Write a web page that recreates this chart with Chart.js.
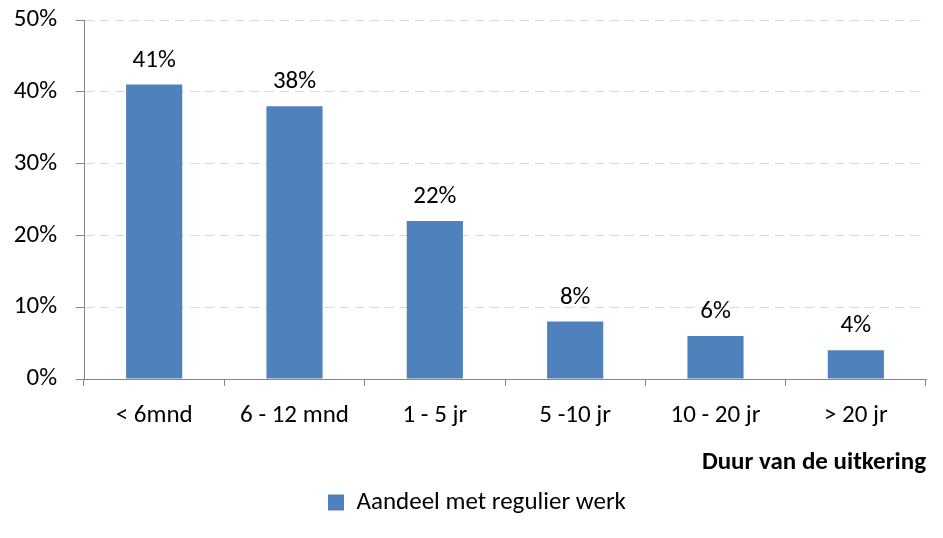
<!DOCTYPE html>
<html>
<head>
<meta charset="utf-8">
<script src="https://cdn.jsdelivr.net/npm/chart.js@4"></script>
<style>
  html, body { margin: 0; padding: 0; background: #fff; }
  #wrap { width: 943px; height: 538px; }
</style>
</head>
<body>
<div id="wrap"><canvas id="chart" width="943" height="538"></canvas></div>
<script>
const categories = ['< 6mnd', '6 - 12 mnd', '1 - 5 jr', '5 -10 jr', '10 - 20 jr', '> 20 jr'];
const shareValues = [41, 38, 22, 8, 6, 4];
const seriesLabel = 'Aandeel met regulier werk';
const axisTitle = 'Duur van de uitkering';

const FONT = "Carlito, Lato, 'Open Sans', sans-serif";
const SIZE = 25;
const GRAY = '#868686';

// writes the value above every bar
const barLabels = {
    id: 'barLabels',
    afterDatasetsDraw(chart) {
        const {ctx} = chart;
        const meta = chart.getDatasetMeta(0);
        ctx.save();
        ctx.font = `${SIZE}px ${FONT}`;
        ctx.fillStyle = '#000';
        ctx.textAlign = 'center';
        ctx.textBaseline = 'alphabetic';
        meta.data.forEach((bar, i) => {
            ctx.fillText(`${shareValues[i]}%`, bar.x, bar.y - 18);
        });
        ctx.restore();
    },
};

// nudge the legend a bit to the right, like the original
const legendShift = {
    id: 'legendShift',
    afterLayout(chart) {
        chart.legend.left += 14;
        chart.legend.right += 14;
    },
};

new Chart(document.querySelector('#chart'), {
    type: 'bar',
    data: {
        labels: categories,
        datasets: [{
            label: seriesLabel,
            data: shareValues,
            backgroundColor: '#4F81BD',
            barPercentage: 0.4,
            categoryPercentage: 1,
        }],
    },
    options: {
        responsive: false,
        animation: false,
        layout: { padding: { top: 0, right: 17, bottom: 13, left: 0 } },
        scales: {
            y: {
                min: 0, max: 50,
                ticks: { stepSize: 10, color: '#000', padding: 19, font: { family: FONT, size: SIZE },
                    callback: (v) => `${v}%` },
                grid: { color: '#d9d9d9', tickColor: GRAY, tickLength: 8, lineWidth: 1 },
                border: { color: GRAY, width: 1, dash: [9, 6] },
                afterFit: (scale) => { scale.width = 84; scale.paddingTop = 20; },
            },
            x: {
                ticks: { color: '#000', padding: 15, font: { family: FONT, size: SIZE } },
                grid: { drawOnChartArea: false, tickColor: GRAY, tickLength: 7 },
                border: { color: GRAY, width: 1 },
                title: { display: true, text: axisTitle, align: 'end', color: '#000',
                    font: { family: FONT, size: SIZE, weight: 'bold' }, padding: { top: 2, bottom: 6 } },
            },
        },
        plugins: {
            legend: {
                position: 'bottom',
                labels: { color: '#000', boxWidth: 16, boxHeight: 16, padding: 6,
                    font: { family: FONT, size: SIZE } },
            },
            tooltip: { enabled: false },
        },
    },
    plugins: [barLabels, legendShift],
});
</script>
</body>
</html>
